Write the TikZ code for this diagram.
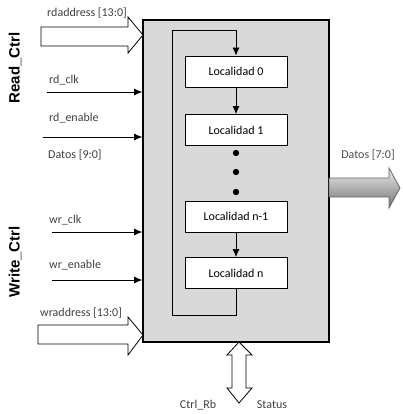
\documentclass[tikz,border=0pt]{standalone}
\usepackage{fontspec}
\setmainfont{Carlito}
\newfontfamily\ctrlfont{Liberation Sans}
\usetikzlibrary{arrows.meta}

\tikzset{
  locbox/.style={draw, fill=white, thick, minimum width=102pt, minimum height=31pt, inner sep=0pt, font=\fontsize{12}{14}\selectfont},
  sig/.style={anchor=west, text=black!75, inner sep=0pt, font=\fontsize{12}{14}\selectfont},
  wire/.style={-{Latex[length=8pt,width=7pt]}, thick},
  bus/.style={draw, fill=white, thick},
  side/.style={rotate=90, inner sep=0pt, font=\ctrlfont\bfseries\fontsize{15}{17}\selectfont}
}

\begin{document}
\begin{tikzpicture}[x=1pt, y=-1pt]
  \useasboundingbox (0,0) rectangle (403,414);

  % memory block
  \node[draw, line width=1.6pt, fill=black!15, minimum width=186pt, minimum height=322pt, inner sep=0pt] (mem) at (236,181) {};

  \node[locbox] (loc0) at (236,71.5) {Localidad 0};
  \node[locbox] (loc1) at (236,130) {Localidad 1};
  \node[locbox] (locn1) at (236,216.5) {Localidad n-1};
  \node[locbox] (locn) at (236,273) {Localidad n};

  \draw[wire] (loc0) -- (loc1);
  \draw[wire] (locn1) -- (locn);
  \foreach \y in {153,172,192}{
    \fill (236,\y) circle [radius=3.2];
  }

  % feedback loop
  \coordinate (loopb) at (172,315);
  \coordinate (loopt) at (172,30);
  \draw[wire] (locn.south) |- (loopb) -- (loopt) -| (loc0.north);

  % side titles
  \node[side] (rdctrl) at (15,68) {Read\_Ctrl};
  \node[side] (wrctrl) at (15,262) {Write\_Ctrl};

  % address buses
  \draw[bus] (41,27) -- (128,27) -- (128,17) -- (143,35) -- (128,53) -- (128,46) -- (41,46) -- cycle;
  \node[sig] (rdaddr) at (47,13) {rdaddress [13:0]};
  \draw[bus] (38,325) -- (128,325) -- (128,317) -- (143,335) -- (128,355) -- (128,344) -- (38,344) -- cycle;
  \node[sig] (wraddr) at (40,313) {wraddress [13:0]};

  % control inputs
  \node[sig] (rdclk) at (49,80) {rd\_clk};
  \coordinate (rdclkin) at (47,92);
  \draw[wire] (rdclkin) -- (rdclkin -| mem.west);

  \node[sig] (rden) at (49,118) {rd\_enable};
  \coordinate (rdenin) at (43,137);
  \draw[wire] (rdenin) -- (rdenin -| mem.west);

  \node[sig] (datin) at (48,155) {Datos [9:0]};

  \node[sig] (wrclk) at (49,220) {wr\_clk};
  \coordinate (wrclkin) at (52,232);
  \draw[wire] (wrclkin) -- (wrclkin -| mem.west);

  \node[sig] (wren) at (49,265) {wr\_enable};
  \coordinate (wrenin) at (52,280);
  \draw[wire] (wrenin) -- (wrenin -| mem.west);

  % data output
  \shade[top color=black!8, bottom color=black!55, draw=black!60, thick]
    (329,178) -- (389,178) -- (389,168) -- (400,188) -- (389,208) -- (389,197) -- (329,197) -- cycle;
  \node[text=black!70, font=\fontsize{12}{14}\selectfont] (datout) at (368,155) {Datos [7:0]};

  % status bus
  \draw[bus] (239,342) -- (252,355) -- (246,355) -- (246,388) -- (252,388) -- (239,403)
    -- (227,388) -- (232,388) -- (232,355) -- (227,355) -- cycle;
  \node[text=black!75, font=\fontsize{12}{14}\selectfont] (ctrlrb) at (198,405) {Ctrl\_Rb};
  \node[text=black!75, font=\fontsize{12}{14}\selectfont] (status) at (272,405) {Status};
\end{tikzpicture}
\end{document}
